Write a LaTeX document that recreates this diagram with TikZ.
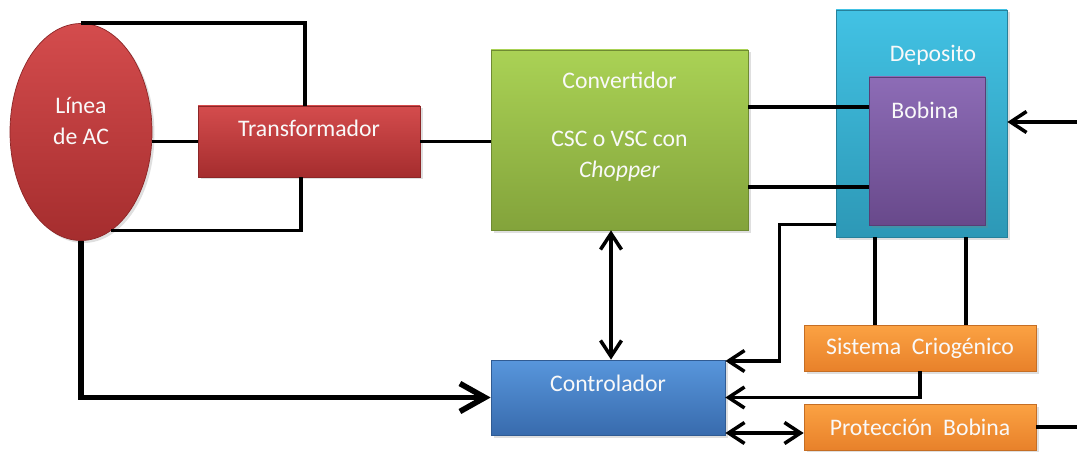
\documentclass[tikz,border=0pt]{standalone}
\usepackage{fontspec}
\setmainfont{Carlito}
\usepackage{tikz}
\usetikzlibrary{shapes.geometric,arrows.meta,shadows}

\definecolor{redLt}{HTML}{D44C4D}
\definecolor{redDk}{HTML}{A52D2E}
\definecolor{greenLt}{HTML}{AAD255}
\definecolor{greenDk}{HTML}{83A33B}
\definecolor{cyanLt}{HTML}{42C2E4}
\definecolor{cyanDk}{HTML}{2D98B6}
\definecolor{purpleLt}{HTML}{8D6CB6}
\definecolor{purpleDk}{HTML}{68498B}
\definecolor{blueLt}{HTML}{5896DC}
\definecolor{blueDk}{HTML}{386BAD}
\definecolor{orangeLt}{HTML}{FBA243}
\definecolor{orangeDk}{HTML}{E8812A}

\begin{document}
\begin{tikzpicture}[
    blk/.style = {shape=rectangle, draw=#1Dk!85!black, line width=0.4pt,
      top color=#1Lt, bottom color=#1Dk,
      drop shadow={opacity=0.25, shadow xshift=0.05cm, shadow yshift=-0.05cm}},
    txt/.style = {text=white!95!gray, align=center,
      font=\fontsize{13.5}{18}\selectfont},
    wire/.style = {draw=black, line width=2pt},
    bigwire/.style = {draw=black, line width=3.2pt},
    tip/.style = {-{Straight Barb[length=0.32cm, width=0.42cm]}},
    bitip/.style = {{Straight Barb[length=0.32cm, width=0.42cm]}-{Straight Barb[length=0.32cm, width=0.42cm]}}]
  \useasboundingbox (0,0) rectangle (21.54,-9.04);

  % blocks
  \node[blk=red, ellipse, minimum width=2.84cm, minimum height=4.34cm,
    label={[txt,yshift=0.22cm]center:{Línea\\de AC}}] (linea) at (1.62,-2.64) {};
  \node[blk=red, minimum width=4.44cm, minimum height=1.42cm,
    label={[txt,yshift=0.27cm]center:Transformador}] (trans) at (6.18,-2.83) {};
  \node[blk=green, minimum width=5.14cm, minimum height=3.60cm,
    label={[txt,yshift=0.26cm]center:{Convertidor\\[0.52cm]CSC o VSC con\\\textit{Chopper}}}] (conv) at (12.39,-2.80) {};
  \node[blk=cyan, minimum width=3.42cm, minimum height=4.54cm,
    label={[txt,xshift=0.23cm,yshift=1.37cm]center:Deposito}] (dep) at (18.43,-2.47) {};
  \node[blk=purple, minimum width=2.32cm, minimum height=2.96cm,
    label={[txt,xshift=-0.04cm,yshift=0.82cm]center:Bobina}] (bob) at (18.54,-3.02) {};
  \node[blk=blue, minimum width=4.68cm, minimum height=1.50cm,
    label={[txt,yshift=0.29cm]center:Controlador}] (ctrl) at (12.16,-7.95) {};
  \node[blk=orange, minimum width=4.64cm, minimum height=0.92cm,
    label={[txt]center:Sistema~~Criogénico}] (sist) at (18.40,-6.96) {};
  \node[blk=orange, minimum width=4.64cm, minimum height=0.92cm,
    label={[txt]center:Protección~~Bobina}] (prot) at (18.40,-8.54) {};

  \coordinate (inR) at (21.54,-2.44);
  \coordinate (outR) at (21.54,-8.56);

  % linea - transformador
  \draw[wire] (linea.north) -| ([xshift=-0.08cm]trans.north);
  \draw[wire] (linea.east |- trans.west) -- (trans.west);
  \draw[wire] (linea.-73) -| ([xshift=-0.16cm]trans.south);
  \draw[wire] (trans.east) -- (trans.east -| conv.west);

  % convertidor - bobina
  \draw[wire] ([yshift=0.66cm]conv.east) -- ([yshift=0.66cm]conv.east -| bob.west);
  \draw[wire] ([yshift=-0.94cm]conv.east) -- ([yshift=-0.94cm]conv.east -| bob.west);
  \draw[wire,tip] (inR) -- (inR -| dep.east);

  % control
  \draw[bigwire,-{Straight Barb[length=0.5cm, width=0.56cm]}] (linea.south) |- (ctrl.west);
  \draw[wire,bitip] ([xshift=-0.17cm]conv.south) -- ([xshift=-0.17cm]conv.south |- ctrl.north);
  \draw[wire,tip] ([yshift=0.26cm]dep.south west) -- ++(-1.12,0) |- ([yshift=0.73cm]ctrl.east);
  \draw[wire] ([xshift=-0.93cm]dep.south) -- ([xshift=-0.93cm]dep.south |- sist.north);
  \draw[wire] ([xshift=0.89cm]dep.south) -- ([xshift=0.89cm]dep.south |- sist.north);
  \draw[wire,tip] (sist.south) |- (ctrl.east);
  \draw[wire,bitip] ([yshift=-0.71cm]ctrl.east) -- ([yshift=-0.71cm]ctrl.east -| prot.west);
  \draw[wire] (prot.east) -- (prot.east -| outR);
\end{tikzpicture}
\end{document}
